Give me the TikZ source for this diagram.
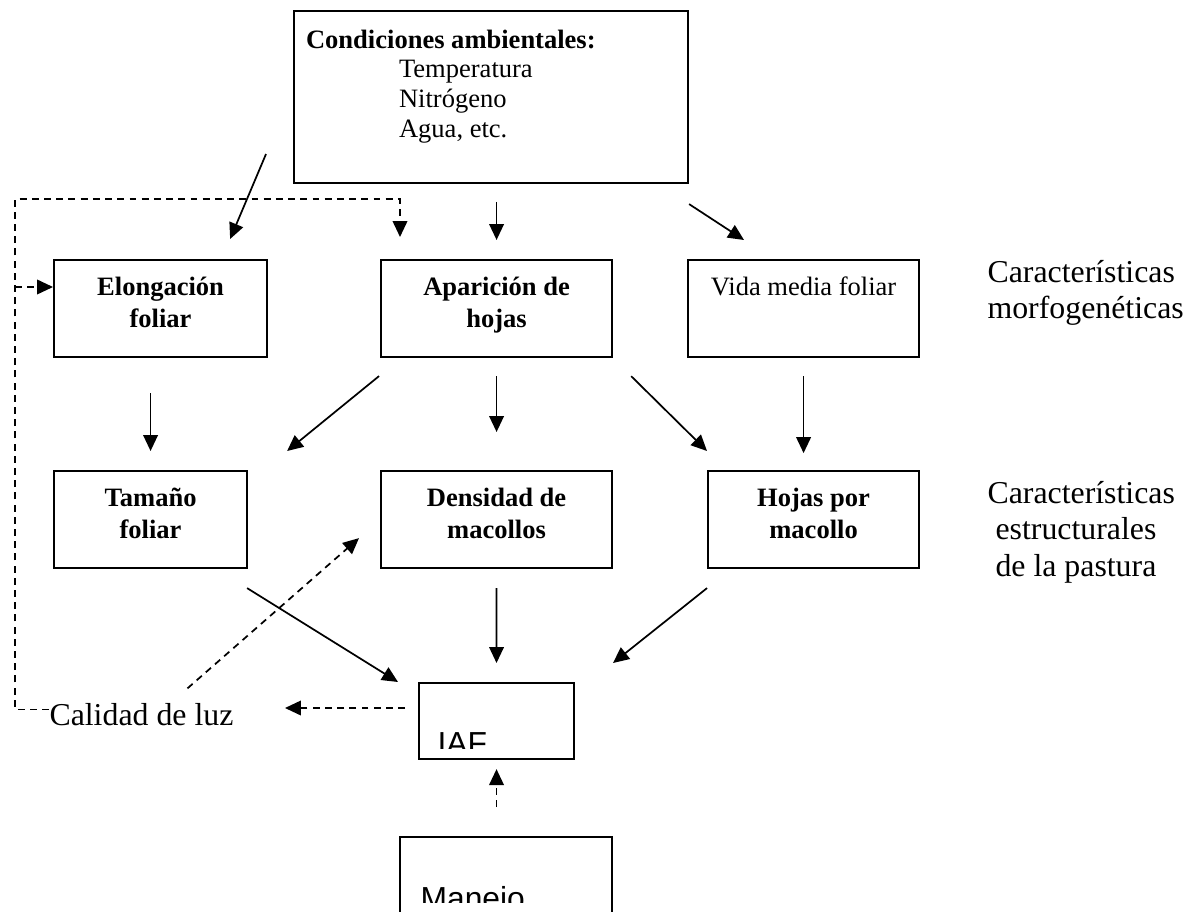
\documentclass[tikz,border=0pt]{standalone}
\usepackage{fontspec}
\setmainfont{Liberation Serif}
\newfontfamily\arialfam{Liberation Sans}
\usetikzlibrary{arrows.meta, calc}

\newlength\pxu
\setlength\pxu{0.377pt}
% text of a box: top aligned, centred
\newcommand{\cajatxt}[3]{\parbox[c][#2\pxu][t]{#1\pxu}{\centering\rule{0pt}{35.5\pxu}#3}}

\begin{document}
\begin{tikzpicture}[
    x=0.377pt, y=-0.377pt,
    caja/.style={draw, line width=0.8pt, inner sep=0pt, anchor=north west,
      font=\fontsize{10}{12}\selectfont\bfseries},
    rotulo/.style={inner sep=0pt, anchor=base west, align=left,
      font=\fontsize{12}{13.6}\selectfont},
    flecha/.style={line width=0.65pt, -{Triangle[length=6pt,width=5.5pt]}},
    disc/.style={flecha, dash pattern=on 2.6pt off 2pt}
  ]
  \clip (0,0) rectangle (1194,911);

  % boxes
  \node[caja, font=\fontsize{10}{11.2}\selectfont] (cond) at (293,10)
    {\parbox[c][172\pxu][t]{394\pxu}{\rule{0pt}{37\pxu}\hspace*{12\pxu}\textbf{Condiciones ambientales:}\\
      \hspace*{105\pxu}Temperatura\\
      \hspace*{105\pxu}Nitrógeno\\
      \hspace*{105\pxu}Agua, etc.}};
  \node[caja] (elong) at (53,259) {\cajatxt{213}{97}{Elongación\\foliar}};
  \node[caja] (apar) at (380,259) {\cajatxt{231}{97}{Aparición de\\hojas}};
  \node[caja, font=\fontsize{10}{12}\selectfont] (vida) at (687,259) {\cajatxt{231}{97}{Vida media foliar}};
  \node[caja] (tam) at (53,470) {\cajatxt{193}{97}{Tamaño\\foliar}};
  \node[caja] (dens) at (380,470) {\cajatxt{231}{97}{Densidad de\\macollos}};
  \node[caja] (hojas) at (707,470) {\cajatxt{211}{97}{Hojas por\\macollo}};
  \node[caja, minimum width=58.4pt, minimum height=28.65pt] (iaf) at (418,682) {};
  \node[caja, minimum width=79.9pt, minimum height=37.7pt] (manejo) at (399,836) {};

  % labels
  \node[rotulo] (morfo) at (987,319) {Características\\morfogenéticas};
  \node[rotulo] (estru) at (987,576) {Características\\\hspace*{8\pxu}estructurales\\\hspace*{8\pxu}de la pastura};
  \node[rotulo] (luz) at (49,725) {Calidad de luz};

  \begin{scope}
    \clip (iaf.north west) rectangle ($(iaf.north east)+(0,66)$);
    \node[inner sep=0pt, anchor=base west, font=\arialfam\fontsize{12}{14}\selectfont] (iaftxt) at (437,754) {IAF};
  \end{scope}
  \begin{scope}
    \clip (manejo.north west) rectangle ($(manejo.north east)+(0,66)$);
    \node[inner sep=0pt, anchor=base west, font=\arialfam\fontsize{12}{14}\selectfont] (manejotxt) at (420,909) {Manejo};
  \end{scope}

  % solid arrows
  \draw[flecha] ($(cond.west)+(-27,57)$) -- ($(elong.north east)+(-38,-20)$);
  \draw[flecha] ($(apar.north)+(0,-57)$) -- ($(apar.north)+(0,-19)$);
  \draw[flecha] ($(cond.south east)+(0,20)$) -- ($(vida.north west)+(57,-19)$);
  \draw[flecha] ($(tam.north)+(0,-77)$) -- ($(tam.north)+(0,-19)$);
  \draw[flecha] ($(apar.south west)+(-1,18)$) -- ($(tam.north east)+(39,-19)$);
  \draw[flecha] ($(apar.south)+(0,18)$) -- ($(dens.north)+(0,-38)$);
  \draw[flecha] ($(apar.south east)+(18,18)$) -- ($(hojas.north west)+(0,-19)$);
  \draw[flecha] ($(vida.south)+(0,18)$) -- ($(vida.south)+(0,95)$);
  \draw[flecha] ($(tam.south east)+(-1,19)$) -- ($(iaf.north west)+(-20,0)$);
  \draw[flecha] ($(dens.south)+(0,19)$) -- ($(iaf.north)+(0,-19)$);
  \draw[flecha] ($(hojas.south west)+(0,19)$) -- ($(iaf.north east)+(38,-19)$);

  % dashed arrows
  \coordinate (esq) at (15,199);
  \coordinate (ent) at ($(elong.north west)+(0,28)$);
  \draw[disc] ($(luz.north west)+(0,7)$) -| (esq) -| ($(apar.north west)+(20,-22)$);
  \draw[disc] (esq |- ent) -- (ent);
  \draw[disc] ($(iaf.north west)+(-13,26)$) -- ($(iaf.north west)+(-133,26)$);
  \draw[disc] ($(luz.north)+(46,-14)$) -- ($(dens.south west)+(-21,-31)$);
  \draw[disc] ($(iaf.south)+(0,47)$) -- ($(iaf.south)+(0,9)$);
\end{tikzpicture}
\end{document}
